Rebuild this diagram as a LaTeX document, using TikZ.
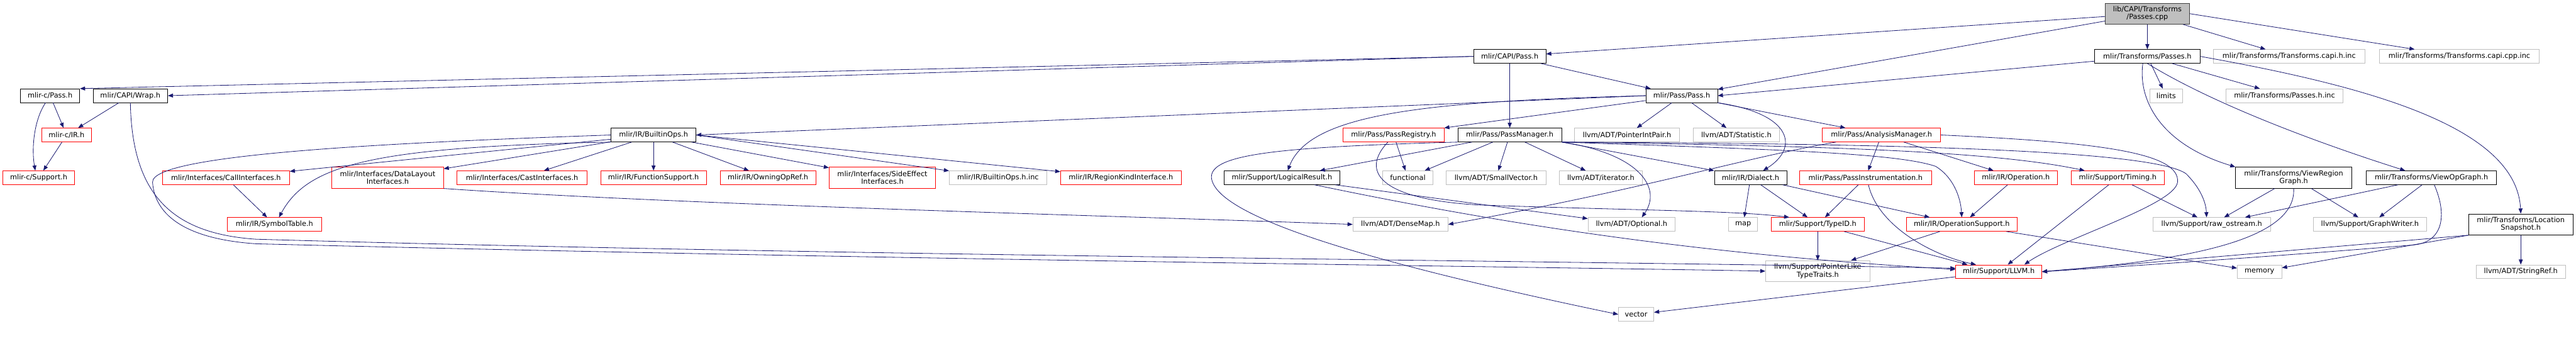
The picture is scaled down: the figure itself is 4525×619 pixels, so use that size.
\documentclass[tikz,border=0pt]{standalone}
\usepackage{fontspec}
\setmainfont{DejaVu Sans}
\usetikzlibrary{arrows.meta}
\definecolor{edgeblue}{HTML}{191970}
\definecolor{extgray}{HTML}{BFBFBF}
\definecolor{rootgray}{HTML}{404040}

\begin{document}
\begin{tikzpicture}[x=1pt, y=-1pt,
    every node/.style={font=\fontsize{12.5}{13.5}\selectfont, inner xsep=2pt, inner ysep=0pt, minimum height=24pt, align=center, line width=0.9pt},
    blk/.style={draw=black, fill=white},
    ext/.style={draw=extgray, fill=white},
    trunc/.style={draw=red, fill=white},
    rootbox/.style={draw=rootgray, fill=extgray},
    twoline/.style={minimum height=37pt},
    edge/.style={draw=edgeblue, line width=0.9pt, -{Triangle[length=9pt,width=7pt]}}]
    \useasboundingbox (0,0) rectangle (4525,619);

    % Wurzel und obere Reihen
    \node[rootbox, twoline, minimum width=148pt] (root) at (3772,24) {lib/CAPI/Transforms\\/Passes.cpp};
    \node[blk, minimum width=127pt] (capipass) at (2652,99) {mlir/CAPI/Pass.h};
    \node[blk, minimum width=185pt] (trpasses) at (3772,99) {mlir/Transforms/Passes.h};
    \node[ext, minimum width=266pt] (capihinc) at (4021,99) {mlir/Transforms/Transforms.capi.h.inc};
    \node[ext, minimum width=281pt] (capicppinc) at (4320,99) {mlir/Transforms/Transforms.capi.cpp.inc};

    \node[blk, minimum width=104pt] (cpass) at (88,168) {mlir-c/Pass.h};
    \node[blk, minimum width=131pt] (wrap) at (229,168) {mlir/CAPI/Wrap.h};
    \node[blk, minimum width=126pt] (pass) at (2954,168) {mlir/Pass/Pass.h};
    \node[ext, minimum width=58pt] (limits) at (3805,168) {limits};
    \node[ext, minimum width=206pt] (passesinc) at (4013,168) {mlir/Transforms/Passes.h.inc};

    \node[trunc, minimum width=88pt] (cir) at (117,237) {mlir-c/IR.h};
    \node[blk, minimum width=149pt] (builtinops) at (1148,237) {mlir/IR/BuiltinOps.h};
    \node[trunc, minimum width=177pt] (passreg) at (2448,237) {mlir/Pass/PassRegistry.h};
    \node[blk, minimum width=182pt] (passmgr) at (2652,237) {mlir/Pass/PassManager.h};
    \node[ext, minimum width=184pt] (ptrintpair) at (2858,237) {llvm/ADT/PointerIntPair.h};
    \node[ext, minimum width=151pt] (statistic) at (3050,237) {llvm/ADT/Statistic.h};
    \node[trunc, minimum width=208pt] (analysis) at (3305,237) {mlir/Pass/AnalysisManager.h};

    % mittlere Reihe
    \node[trunc, minimum width=126pt] (csupport) at (68,312) {mlir-c/Support.h};
    \node[trunc, minimum width=223pt] (callif) at (397,312) {mlir/Interfaces/CallInterfaces.h};
    \node[trunc, twoline, minimum width=196pt] (datalayout) at (681,312) {mlir/Interfaces/DataLayout\\Interfaces.h};
    \node[trunc, minimum width=228pt] (castif) at (917,312) {mlir/Interfaces/CastInterfaces.h};
    \node[trunc, minimum width=186pt] (funcsupport) at (1148,312) {mlir/IR/FunctionSupport.h};
    \node[trunc, minimum width=168pt] (owningop) at (1349,312) {mlir/IR/OwningOpRef.h};
    \node[trunc, twoline, minimum width=187pt] (sideeffect) at (1550,312) {mlir/Interfaces/SideEffect\\Interfaces.h};
    \node[ext, minimum width=171pt] (builtininc) at (1753,312) {mlir/IR/BuiltinOps.h.inc};
    \node[trunc, minimum width=212pt] (regionkind) at (1969,312) {mlir/IR/RegionKindInterface.h};
    \node[blk, minimum width=204pt] (logical) at (2252,312) {mlir/Support/LogicalResult.h};
    \node[ext, minimum width=88pt] (functional) at (2473,312) {functional};
    \node[ext, minimum width=175pt] (smallvec) at (2628,312) {llvm/ADT/SmallVector.h};
    \node[ext, minimum width=145pt] (iterator) at (2812,312) {llvm/ADT/iterator.h};
    \node[blk, minimum width=127pt] (dialect) at (3075,312) {mlir/IR/Dialect.h};
    \node[trunc, minimum width=231pt] (passinstr) at (3277,312) {mlir/Pass/PassInstrumentation.h};
    \node[trunc, minimum width=146pt] (operation) at (3541,312) {mlir/IR/Operation.h};
    \node[trunc, minimum width=163pt] (timing) at (3720,312) {mlir/Support/Timing.h};
    \node[blk, twoline, minimum width=204pt] (viewregion) at (4029,312) {mlir/Transforms/ViewRegion\\Graph.h};
    \node[blk, minimum width=229pt] (viewop) at (4271,312) {mlir/Transforms/ViewOpGraph.h};

    % untere Reihen
    \node[trunc, minimum width=165pt] (symtab) at (482,394) {mlir/IR/SymbolTable.h};
    \node[ext, minimum width=167pt] (densemap) at (2460,394) {llvm/ADT/DenseMap.h};
    \node[ext, minimum width=153pt] (optional) at (2866,394) {llvm/ADT/Optional.h};
    \node[ext, minimum width=51pt] (map) at (3062,394) {map};
    \node[trunc, minimum width=163pt] (typeid) at (3193,394) {mlir/Support/TypeID.h};
    \node[trunc, minimum width=195pt] (opsupport) at (3446,394) {mlir/IR/OperationSupport.h};
    \node[ext, minimum width=207pt] (rawostream) at (3885,394) {llvm/Support/raw\_ostream.h};
    \node[ext, minimum width=199pt] (graphwriter) at (4163,394) {llvm/Support/GraphWriter.h};
    \node[blk, twoline, minimum width=183pt] (locsnap) at (4428,394) {mlir/Transforms/Location\\Snapshot.h};

    \node[ext, twoline, minimum width=183pt] (pointerlike) at (3193,476) {llvm/Support/PointerLike\\TypeTraits.h};
    \node[trunc, minimum width=151pt] (llvm) at (3511,477) {mlir/Support/LLVM.h};
    \node[ext, minimum width=78pt] (memory) at (3969,477) {memory};
    \node[ext, minimum width=157pt] (stringref) at (4428,477) {llvm/ADT/StringRef.h};
    \node[ext, minimum width=62pt] (vector) at (2874,552) {vector};

    % Kanten von der Wurzel
    \draw[edge] (root) -- (capipass);
    \draw[edge] (root) -- (pass);
    \draw[edge] (root) -- (trpasses);
    \draw[edge] (root) -- (capihinc);
    \draw[edge] (root.east) -- (capicppinc);

    % mlir/CAPI/Pass.h
    \draw[edge] (capipass.west) -- (cpass.north east);
    \draw[edge] (capipass.west) -- (wrap.east);
    \draw[edge] (capipass) -- (passmgr);
    \draw[edge] (capipass) -- (pass);

    % mlir/Transforms/Passes.h
    \draw[edge] (trpasses) -- (pass.east);
    \draw[edge] (trpasses) -- (limits);
    \draw[edge] (trpasses) -- (passesinc);
    \draw[edge] ([xshift=-8pt]trpasses.south) .. controls (3755,180) and (3800,255) .. (viewregion.north west);
    \draw[edge] (trpasses.south) .. controls (3900,190) and (4100,260) .. ([xshift=-46pt]viewop.north);
    \draw[edge] (trpasses.east) .. controls (4150,150) and (4420,220) .. (locsnap.north);

    % C-API
    \draw[edge] (cpass) -- (cir);
    \draw[edge] ([xshift=-8pt]cpass.south) .. controls (60,210) and (55,260) .. ([xshift=-6pt]csupport.north);
    \draw[edge] (cir) -- (csupport);
    \draw[edge] (wrap) -- (cir);
    \draw[edge] (wrap.south) .. controls (232,340) and (300,410) .. (450,420) .. controls (1500,450) and (2800,458) .. ([yshift=6pt]llvm.west);

    % mlir/Pass/Pass.h
    \draw[edge] (pass.west) -- (builtinops.east);
    \draw[edge] (pass.west) .. controls (2500,178) and (2300,200) .. ([xshift=10pt]logical.north);
    \draw[edge] (pass) -- (passreg.north east);
    \draw[edge] (pass) -- (ptrintpair);
    \draw[edge] (pass) -- (statistic);
    \draw[edge] (pass.south east) .. controls (3150,200) and (3160,260) .. ([xshift=22pt]dialect.north);
    \draw[edge] (pass.south east) -- (analysis);

    % mlir/IR/BuiltinOps.h
    \draw[edge] (builtinops) -- (callif);
    \draw[edge] (builtinops.south west) .. controls (650,258) and (540,290) .. ([xshift=8pt]symtab.north);
    \draw[edge] (builtinops) -- (datalayout);
    \draw[edge] (builtinops) -- (castif);
    \draw[edge] (builtinops) -- (funcsupport);
    \draw[edge] (builtinops) -- (owningop);
    \draw[edge] (builtinops) -- (sideeffect);
    \draw[edge] (builtinops.east) -- (builtininc);
    \draw[edge] (builtinops.east) -- (regionkind);
    \draw[edge] (builtinops.west) .. controls (700,250) and (265,270) .. (268,320) .. controls (272,380) and (330,420) .. (450,428) .. controls (1500,455) and (2800,470) .. (pointerlike.west);
    \draw[edge] (callif) -- (symtab);
    \draw[edge] (datalayout.south east) .. controls (1200,360) and (2000,380) .. (densemap.west);

    % mlir/Pass/PassRegistry.h und PassManager.h
    \draw[edge] (passreg) -- (functional);
    \draw[edge] ([xshift=-10pt]passreg.south) .. controls (2390,300) and (2420,350) .. (2600,360) .. controls (2900,370) and (3050,370) .. ([xshift=-50pt]typeid.north);
    \draw[edge] (passmgr) -- (logical);
    \draw[edge] (passmgr) -- (functional);
    \draw[edge] (passmgr) -- (smallvec);
    \draw[edge] (passmgr) -- (iterator);
    \draw[edge] (passmgr.south east) -- (dialect.north west);
    \draw[edge] (passmgr.south east) .. controls (2880,270) and (2920,330) .. ([xshift=18pt]optional.north);
    \draw[edge] (passmgr.south east) .. controls (3100,262) and (3330,268) .. (3400,292) .. controls (3430,310) and (3444,345) .. (opsupport.north);
    \draw[edge] (passmgr.south east) .. controls (3200,256) and (3500,265) .. ([xshift=-58pt]timing.north);
    \draw[edge] (passmgr.south east) .. controls (3300,252) and (3780,262) .. (3840,305) .. controls (3865,330) and (3875,355) .. ([xshift=-9pt]rawostream.north);
    \draw[edge] (passmgr.south west) .. controls (2250,258) and (2125,270) .. (2128,312) .. controls (2135,380) and (2400,460) .. (vector.west);

    % mlir/Pass/AnalysisManager.h
    \draw[edge] ([xshift=-80pt]analysis.south) .. controls (3050,280) and (2900,330) .. (densemap.east);
    \draw[edge] (analysis) -- (passinstr);
    \draw[edge] (analysis) -- (operation);
    \draw[edge] (analysis.east) .. controls (3700,250) and (3830,270) .. (3825,320) .. controls (3820,360) and (3620,420) .. ([xshift=45pt]llvm.north);

    % Support-Ebene
    \draw[edge] (logical) -- (optional);
    \draw[edge] ([xshift=57pt]logical.south) .. controls (2600,385) and (2950,445) .. ([yshift=4pt]llvm.west);
    \draw[edge] (dialect) -- (map);
    \draw[edge] (dialect) -- (typeid);
    \draw[edge] (dialect) -- (opsupport);
    \draw[edge] (passinstr) -- (typeid);
    \draw[edge] ([xshift=5pt]passinstr.south) .. controls (3300,400) and (3400,450) .. ([xshift=-40pt]llvm.north);
    \draw[edge] (operation) -- (opsupport);
    \draw[edge] (timing) -- (llvm);
    \draw[edge] (timing) -- (rawostream);
    \draw[edge] (typeid) -- (pointerlike);
    \draw[edge] (typeid) -- ([xshift=-55pt]llvm.north);
    \draw[edge] (opsupport) -- (pointerlike);
    \draw[edge] (opsupport) -- (memory);
    \draw[edge] (llvm) -- (vector);

    % Transforms-Header
    \draw[edge] (viewregion) -- (rawostream);
    \draw[edge] (viewregion) -- (graphwriter);
    \draw[edge] (viewregion.south) .. controls (4035,430) and (3800,460) .. (llvm.east);
    \draw[edge] (viewop) -- (rawostream);
    \draw[edge] (viewop) -- (graphwriter);
    \draw[edge] ([xshift=5pt]viewop.south) .. controls (4300,380) and (4290,425) .. (4240,430) .. controls (4000,450) and (3700,470) .. (llvm.east);
    \draw[edge] (locsnap.south west) -- (memory);
    \draw[edge] (locsnap) -- (stringref);
    \draw[edge] (locsnap.south west) -- (llvm.east);
\end{tikzpicture}
\end{document}
